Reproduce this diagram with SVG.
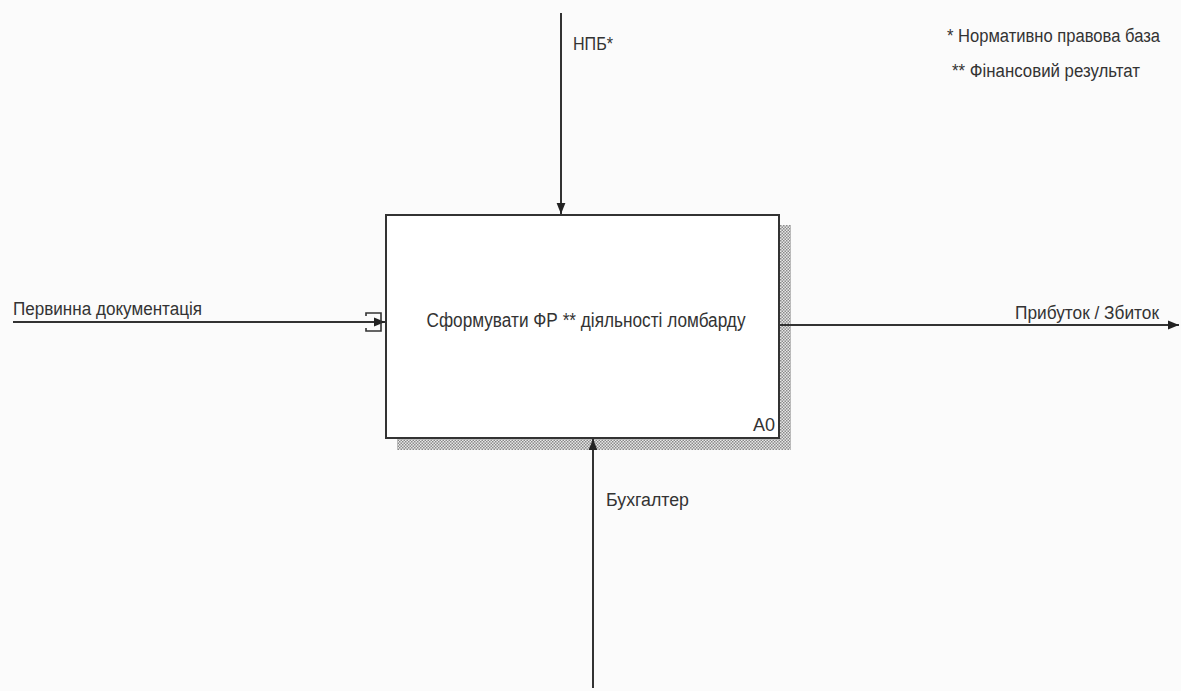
<svg xmlns="http://www.w3.org/2000/svg" width="1181" height="691" viewBox="0 0 1181 691">
<style>
text{font-family:"Liberation Sans",Arial,sans-serif;fill:#333;}
.lbl{font-size:18px;}
.ln{stroke:#333;stroke-width:2;fill:none;}
</style>
<defs>
<pattern id="hatch" width="3" height="3" patternUnits="userSpaceOnUse">
<rect width="3" height="3" fill="#e8e8e8"/>
<rect width="1.5" height="1.5" fill="#8a8a8a"/>
<rect x="1.5" y="1.5" width="1.5" height="1.5" fill="#8a8a8a"/>
</pattern>
<marker id="arr" viewBox="0 0 10 10" refX="10" refY="5" markerWidth="11" markerHeight="11" markerUnits="userSpaceOnUse" orient="auto">
<path d="M0,1 L10,5 L0,9 Z" fill="#222"/>
</marker>
</defs>
<rect width="1181" height="691" fill="#fbfbfb"/>
<g id="A0">
<rect x="779" y="225" width="12" height="225" fill="url(#hatch)"/>
<rect x="397" y="438" width="394" height="12" fill="url(#hatch)"/>
<rect x="386" y="215" width="393" height="223" fill="#fff" stroke="#333" stroke-width="2"/>
<text x="586" y="327" font-size="20" text-anchor="middle" textLength="319" lengthAdjust="spacingAndGlyphs">Сформувати ФР ** діяльності ломбарду</text>
<text x="775" y="431" font-size="18" text-anchor="end">A0</text>
</g>
<g id="connectors">
<line class="ln" x1="561" y1="13" x2="561" y2="214" marker-end="url(#arr)"/>
<line class="ln" x1="593" y1="688" x2="593" y2="439" marker-end="url(#arr)"/>
<line class="ln" x1="13" y1="322" x2="385" y2="322" marker-end="url(#arr)"/>
<path d="M366,316 V313 H381 V331 H366 V328" fill="none" stroke="#333" stroke-width="1.6"/>
<line class="ln" x1="780" y1="325" x2="1179" y2="325" marker-end="url(#arr)"/>
</g>
<g id="label-npb"><text class="lbl" x="573" y="50" textLength="40" lengthAdjust="spacingAndGlyphs">НПБ*</text></g>
<g id="label-buh"><text class="lbl" x="606" y="506" textLength="83" lengthAdjust="spacingAndGlyphs">Бухгалтер</text></g>
<g id="label-input"><text class="lbl" x="13" y="315" textLength="189" lengthAdjust="spacingAndGlyphs">Первинна документація</text></g>
<g id="label-output"><text class="lbl" x="1159" y="319" text-anchor="end" textLength="144" lengthAdjust="spacingAndGlyphs">Прибуток / Збиток</text></g>
<g id="notes">
<text class="lbl" x="947" y="42" textLength="213" lengthAdjust="spacingAndGlyphs">* Нормативно правова база</text>
<text class="lbl" x="952" y="77" textLength="188" lengthAdjust="spacingAndGlyphs">** Фінансовий результат</text>
</g>
</svg>
